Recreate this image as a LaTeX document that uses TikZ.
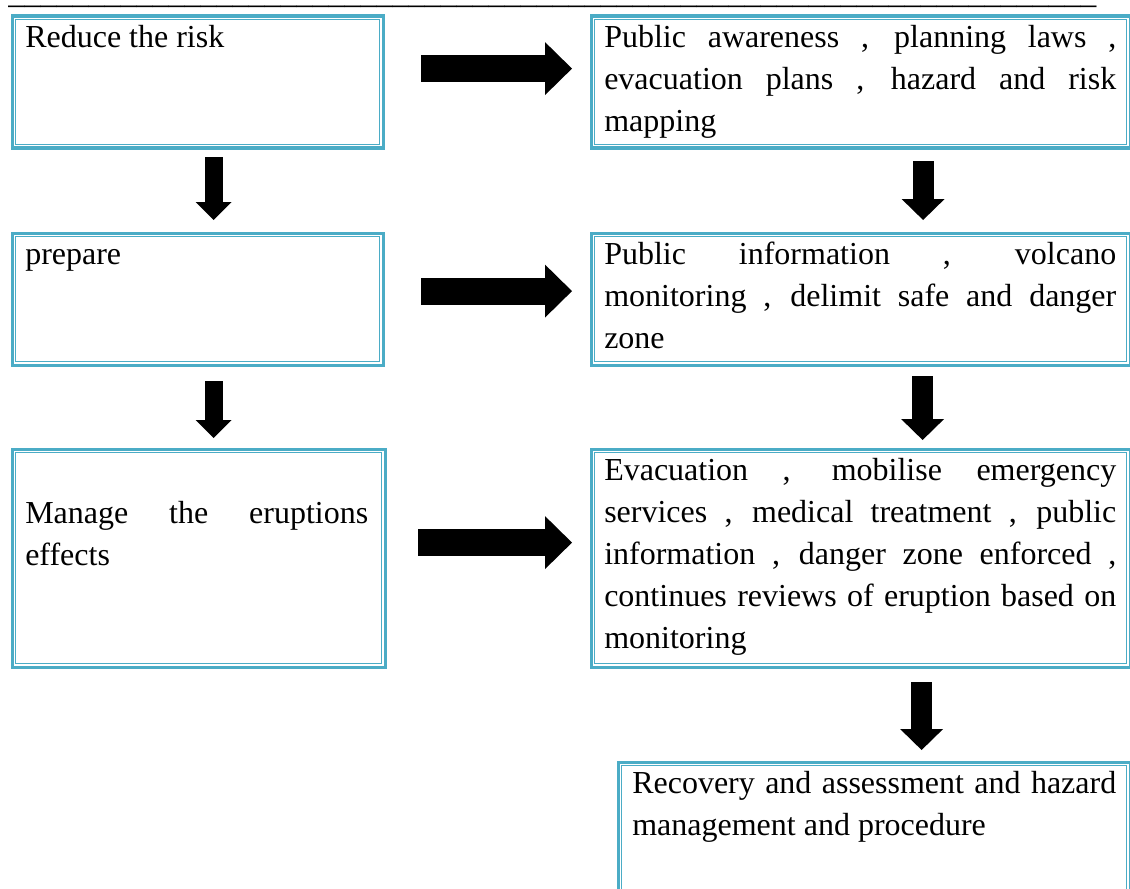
\documentclass[tikz,border=0pt]{standalone}
\usepackage{fontspec}
\setmainfont{Liberation Serif}
\usetikzlibrary{arrows.meta,calc}
\definecolor{boxteal}{HTML}{4BACC6}
\tolerance=10000
\hbadness=10000
\def\usten{\_\_\_\_\_\_\_\_\_\_}
\tikzset{
  innerline/.style={draw=boxteal, line width=0.9pt},
  box/.style={draw=boxteal, line width=2.4pt, anchor=north west, inner sep=0pt,
    append after command={\pgfextra{\draw[innerline]
      ($(\tikzlastnode.north west)+(5,5)$) rectangle ($(\tikzlastnode.south east)+(-5,-5)$);}}},
  txtbase/.style={anchor=base west, inner sep=0pt, align=justify,
    font=\fontsize{24}{31.5}\selectfont},
  txtleft/.style={txtbase, text width=257.25pt},
  txtright/.style={txtbase, text width=384pt},
  txtlast/.style={txtbase, text width=363pt},
  rarrow/.style={line width=20.25pt, -{Triangle[width=39.75pt,length=20.25pt,line width=0pt]}},
  ldarrow/.style={line width=13.5pt, -{Triangle[width=27pt,length=13.5pt,line width=0pt]}},
  rdarrow/.style={line width=15.75pt, -{Triangle[width=32.25pt,length=15.75pt,line width=0pt]}},
}
\begin{document}
\begin{tikzpicture}[x=0.75pt, y=-0.75pt]
\useasboundingbox (0,0) rectangle (1130,888);
\begin{scope}
\clip (0,0) rectangle (1130,888);

% top rule of underscores
\node[anchor=base west, inner sep=0pt, font=\fontsize{24}{31.5}\selectfont] (toprule) at (8,3.5)
  {\usten\usten\usten\usten\usten\usten\_\_\_\_\_\_\_\_};

% boxes
\node[box, minimum width=278.25pt, minimum height=99pt] (b1) at (10.5,14.5) {};
\node[box, minimum width=404.25pt, minimum height=99pt] (b2) at (589.5,14.5) {};
\node[box, minimum width=278.25pt, minimum height=99pt] (b3) at (10.5,231.5) {};
\node[box, minimum width=404.25pt, minimum height=99pt] (b4) at (589.5,231.5) {};
\node[box, minimum width=279.75pt, minimum height=163.5pt] (b5) at (10.5,447.5) {};
\node[box, minimum width=404.25pt, minimum height=163.5pt] (b6) at (589.5,447.5) {};
\node[box, minimum width=384pt, minimum height=104.625pt] (b7) at (616.5,760.5) {};

% texts
\node[txtleft] (t1) at ($(b1.north west)+(14.5,33.5)$) {Reduce the risk};
\node[txtright] (t2) at ($(b2.north west)+(14.5,33.5)$)
  {Public awareness , planning laws ,\linebreak evacuation plans , hazard and risk\linebreak mapping};
\node[txtleft] (t3) at ($(b3.north west)+(14.5,32.5)$) {prepare};
\node[txtright] (t4) at ($(b4.north west)+(14.5,32.5)$)
  {Public information , volcano\linebreak monitoring , delimit safe and danger\linebreak zone};
\node[txtleft] (t5) at ($(b5.north west)+(14.5,75.5)$)
  {Manage the eruptions\linebreak effects};
\node[txtright] (t6) at ($(b6.north west)+(14.5,32.5)$)
  {Evacuation , mobilise emergency\linebreak services , medical treatment , public\linebreak information , danger zone enforced ,\linebreak continues reviews of eruption based on\linebreak monitoring};
\node[txtlast] (t7) at ($(b7.north west)+(15.5,32.5)$)
  {Recovery and assessment and hazard\linebreak management and procedure};

% horizontal arrows
\draw[rarrow] ($(b1.east)+(36.5,-13.5)$) -- ($(b2.west)+(-17.5,-13.5)$);
\draw[rarrow] ($(b3.east)+(36.5,-8)$) -- ($(b4.west)+(-17.5,-8)$);
\draw[rarrow] ($(b5.east)+(31.5,-15.5)$) -- ($(b6.west)+(-17.5,-15.5)$);

% vertical arrows
\draw[ldarrow] ($(b1.south)+(16,7.5)$) -- ($(b3.north)+(16,-11.5)$);
\draw[ldarrow] ($(b3.south)+(16,14.5)$) -- ($(b5.north)+(15,-9.5)$);
\draw[rdarrow] ($(b2.south)+(62.5,11.5)$) -- ($(b4.north)+(62.5,-11.5)$);
\draw[rdarrow] ($(b4.south)+(62,9.5)$) -- ($(b6.north)+(62,-7.5)$);
\draw[rdarrow] ($(b6.south)+(61,13.5)$) -- ($(b7.north)+(47.5,-10.5)$);
\end{scope}
\end{tikzpicture}
\end{document}
